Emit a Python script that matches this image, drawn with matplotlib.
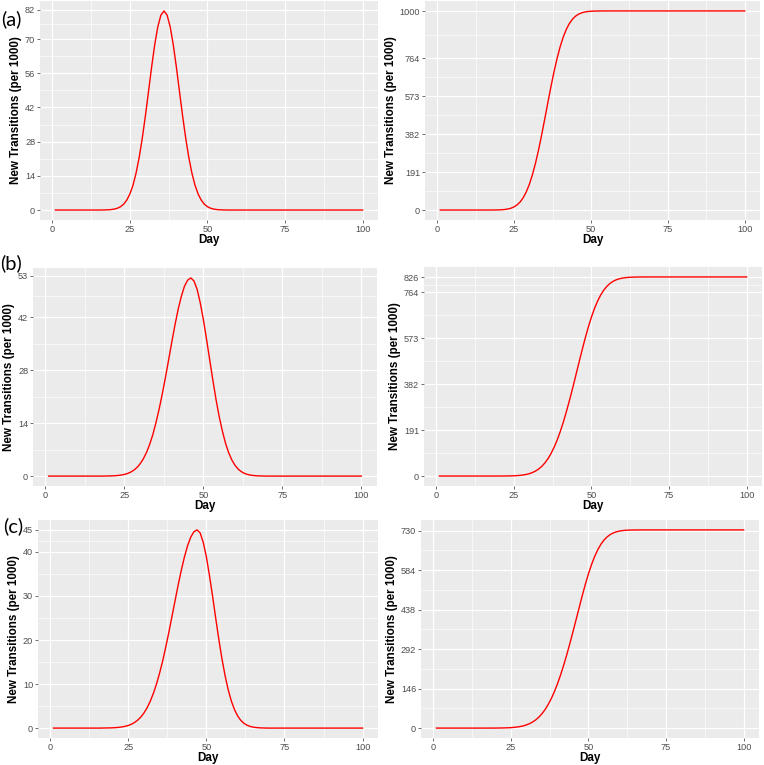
import matplotlib.pyplot as plt
import numpy as np

# Epidemic curves: daily new transitions (left) and running total (right), three scenarios

days = list(range(1, 101))

# daily new transitions per 1000 (days 1..100)
daily_a = [
    0, 0, 0, 0, 0, 0, 0, 0, 0, 0,
    0, 0, 0, 0, 0, 0.02, 0.05, 0.1, 0.2, 0.39,
    0.75, 1.37, 2.41, 4.06, 6.55, 10.1, 15.1, 21.5, 29.4, 38.5,
    48.4, 58.4, 67.6, 75.0, 79.8, 81.5, 79.8, 75.0, 67.6, 58.4,
    48.4, 38.5, 29.4, 21.5, 15.1, 10.1, 6.55, 4.06, 2.41, 1.37,
    0.75, 0.39, 0.2, 0.1, 0.05, 0.02, 0, 0, 0, 0,
    0, 0, 0, 0, 0, 0, 0, 0, 0, 0,
    0, 0, 0, 0, 0, 0, 0, 0, 0, 0,
    0, 0, 0, 0, 0, 0, 0, 0, 0, 0,
    0, 0, 0, 0, 0, 0, 0, 0, 0, 0,
]
daily_b = [
    0, 0, 0, 0, 0, 0, 0, 0, 0, 0,
    0, 0, 0, 0, 0, 0, 0, 0, 0.02, 0.04,
    0.06, 0.10, 0.17, 0.28, 0.44, 0.69, 1.06, 1.58, 2.30, 3.29,
    4.60, 6.29, 8.43, 11.0, 14.2, 17.8, 21.8, 26.2, 30.8, 35.5,
    40.0, 44.1, 47.5, 50.2, 51.8, 52.4, 51.6, 49.4, 45.8, 41.3,
    36.1, 30.7, 25.3, 20.2, 15.7, 11.9, 8.68, 6.16, 4.25, 2.85,
    1.85, 1.17, 0.71, 0.42, 0.24, 0.14, 0.07, 0.04, 0.02, 0,
    0, 0, 0, 0, 0, 0, 0, 0, 0, 0,
    0, 0, 0, 0, 0, 0, 0, 0, 0, 0,
    0, 0, 0, 0, 0, 0, 0, 0, 0, 0,
]
daily_c = [
    0, 0, 0, 0, 0, 0, 0, 0, 0, 0,
    0, 0, 0, 0, 0, 0, 0.02, 0.03, 0.04, 0.07,
    0.11, 0.17, 0.27, 0.41, 0.61, 0.89, 1.29, 1.82, 2.52, 3.45,
    4.62, 6.09, 7.88, 10.0, 12.5, 15.3, 18.5, 21.9, 25.5, 29.1,
    32.7, 36.0, 39.0, 41.5, 43.4, 44.6, 45.0, 44.3, 42.1, 38.8,
    34.5, 29.8, 24.8, 20.0, 15.6, 11.8, 8.62, 6.09, 4.17, 2.75,
    1.76, 1.09, 0.65, 0.38, 0.21, 0.12, 0.06, 0.03, 0.01, 0,
    0, 0, 0, 0, 0, 0, 0, 0, 0, 0,
    0, 0, 0, 0, 0, 0, 0, 0, 0, 0,
    0, 0, 0, 0, 0, 0, 0, 0, 0, 0,
]

# y breaks as printed on each panel
ticks_a_daily = [0, 14, 28, 42, 56, 70, 82]
ticks_a_total = [0, 191, 382, 573, 764, 1000]
ticks_b_daily = [0, 14, 28, 42, 53]
ticks_b_total = [0, 191, 382, 573, 764, 826]
ticks_c_daily = [0, 10, 20, 30, 40, 45]
ticks_c_total = [0, 146, 292, 438, 584, 730]
day_ticks = [0, 25, 50, 75, 100]

panel_tags = ["(a)", "(b)", "(c)"]

W, H = 764, 765
fig = plt.figure(figsize=(W / 100, H / 100), dpi=100)


def pix_axes(x0, y0, x1, y1):
    return fig.add_axes([x0 / W, 1 - y1 / H, (x1 - x0) / W, (y1 - y0) / H])


def midpoints(t):
    t = np.asarray(t, dtype=float)
    return (t[:-1] + t[1:]) / 2


def gg_panel(ax, y, yticks):
    ax.set_facecolor("#EBEBEB")
    ax.plot(days, y, color="#FF0000", lw=1.0, zorder=3)
    ax.margins(x=0.05, y=0.05)
    ax.set_xticks(day_ticks)
    ax.set_yticks(yticks)
    ax.set_xticks(midpoints(day_ticks), minor=True)
    ax.set_yticks(midpoints(yticks), minor=True)
    ax.grid(which="major", color="white", lw=0.9)
    ax.grid(which="minor", color="white", lw=0.45)
    ax.set_axisbelow(True)
    for s in ax.spines.values():
        s.set_visible(False)
    ax.tick_params(which="major", length=2, width=0.5, color="#333333",
                   labelsize=6.6, labelcolor="#4D4D4D", pad=1.5)
    ax.tick_params(which="minor", length=0)
    for lab in ax.get_xticklabels() + ax.get_yticklabels():
        lab.set_family("Liberation Sans")
    ax.set_xlabel("Day", fontsize=8.4, fontweight="bold",
                  family="Liberation Sans", labelpad=0)
    ax.set_ylabel("New Transitions (per 1000)", fontsize=8.4,
                  fontweight="bold", family="Liberation Sans", labelpad=2)


rows = [
    (daily_a, ticks_a_daily, ticks_a_total, (40, 1, 378, 220), (425, 1, 760, 220)),
    (daily_b, ticks_b_daily, ticks_b_total, (33, 268, 377, 486), (424, 267, 762, 486)),
    (daily_c, ticks_c_daily, ticks_c_total, (38, 520, 378, 738), (421, 520, 759, 738)),
]

for daily, t_left, t_right, box_l, box_r in rows:
    ax_l = pix_axes(*box_l)
    gg_panel(ax_l, daily, t_left)
    ax_r = pix_axes(*box_r)
    gg_panel(ax_r, np.cumsum(daily), t_right)

# panel letters
tag_pos = [(1, 19), (0, 263), (3, 526)]
for tag, (px, py) in zip(panel_tags, tag_pos):
    fig.text(px / W, 1 - py / H, tag, fontsize=14.5, family="Lato",
             ha="left", va="center")

fig.savefig("out.png", dpi=100, facecolor="white")
